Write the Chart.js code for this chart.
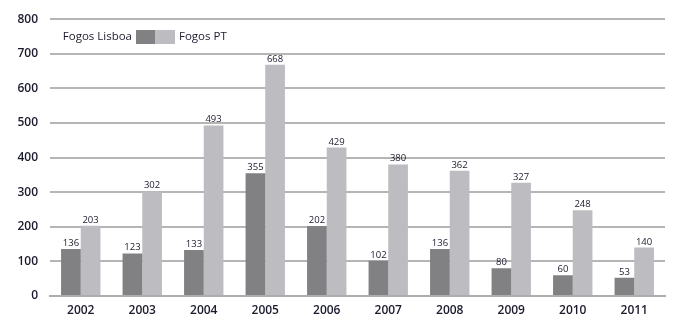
<!DOCTYPE html>
<html>
<head>
<meta charset="utf-8">
<script src="https://cdn.jsdelivr.net/npm/chart.js@4/dist/chart.umd.min.js"></script>
<style>
  html, body { margin: 0; padding: 0; background: #fff; }
  #wrap { width: 691px; height: 325px; position: relative; }
</style>
</head>
<body>
<div id="wrap"><canvas id="chart"></canvas></div>
<script>
const YEARS = ['2002', '2003', '2004', '2005', '2006', '2007', '2008', '2009', '2010', '2011'];
const FOGOS_LISBOA = [136, 123, 133, 355, 202, 102, 136, 80, 60, 53];
const FOGOS_PT = [203, 302, 493, 668, 429, 380, 362, 327, 248, 140];
const Y_TICKS = [0, 100, 200, 300, 400, 500, 600, 700, 800];

const COLOR_LISBOA = '#818184';
const COLOR_PT = '#bdbdc1';
const TEXT = '#1b1b2e';
const FONT = "'Open Sans', 'Liberation Sans', Arial, sans-serif";

// value labels above each bar
const valueLabels = {
  id: 'valueLabels',
  afterDatasetsDraw(chart) {
    const ctx = chart.ctx;
    ctx.save();
    ctx.font = '9.5px ' + FONT;
    ctx.fillStyle = TEXT;
    ctx.textAlign = 'center';
    ctx.textBaseline = 'bottom';
    chart.data.datasets.forEach((ds, i) => {
      chart.getDatasetMeta(i).data.forEach((bar, j) => {
        ctx.fillText(String(ds.data[j]), bar.x, bar.y - 1);
      });
    });
    ctx.restore();
  },
};

// legend: "Fogos Lisboa [dark][light] Fogos PT"
const inlineLegend = {
  id: 'inlineLegend',
  afterDraw(chart) {
    const ctx = chart.ctx;
    const ds = chart.data.datasets;
    ctx.save();
    ctx.font = '11.5px ' + FONT;
    ctx.fillStyle = TEXT;
    ctx.textBaseline = 'middle';
    const y = 36.5;
    ctx.textAlign = 'right';
    ctx.fillText(ds[0].label, 132, y);
    ctx.fillStyle = ds[0].backgroundColor;
    ctx.fillRect(136, 30, 19, 14);
    ctx.fillStyle = ds[1].backgroundColor;
    ctx.fillRect(155, 30, 20, 14);
    ctx.fillStyle = TEXT;
    ctx.textAlign = 'left';
    ctx.fillText(ds[1].label, 179, y);
    ctx.restore();
  },
};

new Chart(document.getElementById('chart'), {
  type: 'bar',
  data: {
    labels: YEARS,
    datasets: [
      { label: 'Fogos Lisboa', data: FOGOS_LISBOA, backgroundColor: COLOR_LISBOA },
      { label: 'Fogos PT', data: FOGOS_PT, backgroundColor: COLOR_PT },
    ],
  },
  options: {
    responsive: true,
    maintainAspectRatio: false,
    animation: false,
    layout: { padding: { top: 14, right: 26, left: 0, bottom: 0 } },
    datasets: { bar: { barPercentage: 1, categoryPercentage: 0.64 } },
    plugins: {
      legend: { display: false },
      tooltip: { enabled: false },
    },
    scales: {
      x: {
        grid: { display: false, drawTicks: false },
        border: { color: '#adadad', width: 2 },
        ticks: { color: TEXT, font: { family: FONT, size: 12, weight: '600' }, padding: 7 },
        afterFit(scale) { scale.height = 29; },
      },
      y: {
        min: 0,
        max: 800,
        afterBuildTicks(scale) { scale.ticks = Y_TICKS.map(v => ({ value: v })); },
        grid: { color: '#b5b5b5', lineWidth: 2, drawTicks: false },
        border: { display: false },
        ticks: { color: TEXT, font: { family: FONT, size: 12, weight: '600' }, padding: 12 },
        afterFit(scale) { scale.width = 50; },
      },
    },
  },
  plugins: [valueLabels, inlineLegend],
});
</script>
</body>
</html>
